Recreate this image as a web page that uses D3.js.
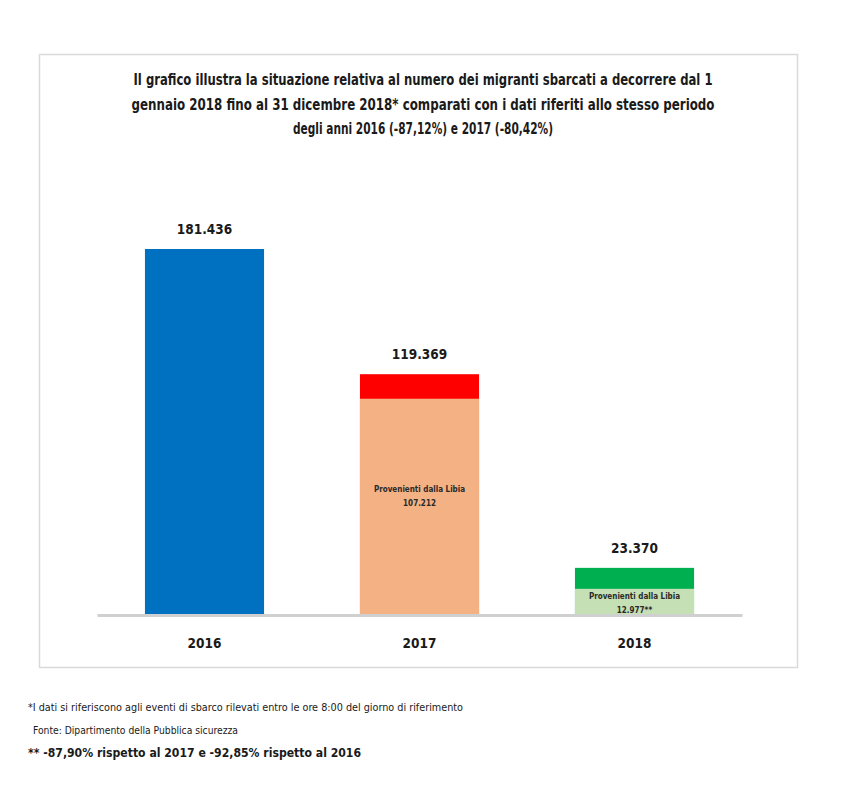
<!DOCTYPE html>
<html><head><meta charset="utf-8">
<script src="https://cdn.jsdelivr.net/npm/d3@7"></script>
<style>body{margin:0;background:#fff}svg{display:block}</style>
</head><body>
<script>
const categories = ["2016", "2017", "2018"];
const totals = [181436, 119369, 23370];
const libya = [null, 107212, 12977];
const totalLabels = ["181.436", "119.369", "23.370"];
const libyaLabels = [null, "107.212", "12.977**"];
const titleLines = [
  "Il grafico illustra la situazione relativa al numero dei migranti sbarcati a decorrere dal 1",
  "gennaio 2018 fino al 31 dicembre 2018* comparati con i dati riferiti allo stesso periodo",
  "degli anni 2016 (-87,12%) e 2017 (-80,42%)"
];
const footnotes = [
  "*I dati si riferiscono agli eventi di sbarco rilevati entro le ore 8:00 del giorno di riferimento",
  "Fonte: Dipartimento della Pubblica sicurezza",
  "** -87,90% rispetto al 2017 e -92,85% rispetto al 2016"
];
const topColors = ["#0070C0", "#FF0000", "#00B050"];
const bottomColors = [null, "#F4B183", "#C5E0B4"];

const W = 846, H = 802;
const font = "'Liberation Sans Narrow','DejaVu Sans Condensed',Arial,sans-serif";
const svg = d3.select("body").append("svg").attr("width", W).attr("height", H)
  .style("font-family", font);

svg.append("rect").attr("x", 39.5).attr("y", 54.5).attr("width", 758).attr("height", 613)
  .attr("fill", "#fff").attr("stroke", "#d9d9d9").attr("stroke-width", 1.5);

const x = d3.scaleBand().domain(categories).range([97, 742]).paddingInner(0.446).paddingOuter(0.223);
const y = d3.scaleLinear().domain([0, 181436]).range([615, 249]);

// title
const titleWidths = [579, 583, 260];
svg.append("g").selectAll("text").data(titleLines).join("text")
  .attr("x", 423).attr("y", (d, i) => 85 + i * 24.5)
  .attr("text-anchor", "middle").attr("font-weight", "bold").attr("font-size", 15)
  .attr("textLength", (d, i) => titleWidths[i]).attr("lengthAdjust", "spacingAndGlyphs")
  .attr("fill", "#1a1a1a").text(d => d);

const data = categories.map((c, i) => ({c, t: totals[i], l: libya[i], i}));

// top (total) bars
svg.append("g").selectAll("rect").data(data).join("rect")
  .attr("x", d => x(d.c)).attr("width", x.bandwidth())
  .attr("y", d => y(d.t)).attr("height", d => y(0) - y(d.t))
  .attr("fill", d => topColors[d.i]);

// libya bars
svg.append("g").selectAll("rect").data(data.filter(d => d.l != null)).join("rect")
  .attr("x", d => x(d.c)).attr("width", x.bandwidth())
  .attr("y", d => y(d.l)).attr("height", d => y(0) - y(d.l))
  .attr("fill", d => bottomColors[d.i]);

// axis baseline
const ax = svg.append("g").attr("transform", `translate(0,${y(0)})`)
  .call(d3.axisBottom(x).tickSize(0).tickPadding(23));
ax.select(".domain").attr("stroke", "#d0d0d0").attr("stroke-width", 3);
ax.selectAll("text").attr("font-family", font).attr("font-size", 13.5)
  .attr("font-weight", "bold").attr("fill", "#1a1a1a");

// value labels
svg.append("g").selectAll("text").data(data).join("text")
  .attr("x", d => x(d.c) + x.bandwidth() / 2).attr("y", d => y(d.t) - 15)
  .attr("text-anchor", "middle").attr("font-weight", "bold").attr("font-size", 13.5)
  .attr("fill", "#1a1a1a").text(d => totalLabels[d.i]);

// inside labels
const lib = data.filter(d => d.l != null);
const insideY = [null, y(0) - 123, y(0) - 16];
const ig = svg.append("g");
lib.forEach(d => {
  const cx = x(d.c) + x.bandwidth() / 2;
  ig.append("text").attr("x", cx).attr("y", insideY[d.i])
    .attr("text-anchor", "middle").attr("font-weight", "bold").attr("font-size", 8)
    .attr("fill", "#2a2a2a").text("Provenienti dalla Libia");
  ig.append("text").attr("x", cx).attr("y", insideY[d.i] + 14)
    .attr("text-anchor", "middle").attr("font-weight", "bold").attr("font-size", 8)
    .attr("fill", "#2a2a2a").text(libyaLabels[d.i]);
});

// footnotes
const fn = svg.append("g");
fn.append("text").attr("x", 28).attr("y", 711).attr("font-size", 10.5).attr("fill", "#1a1a1a")
  .attr("textLength", 435).attr("lengthAdjust", "spacingAndGlyphs").text(footnotes[0]);
fn.append("text").attr("x", 33).attr("y", 734).attr("font-size", 10.5).attr("fill", "#1a1a1a")
  .attr("textLength", 205).attr("lengthAdjust", "spacingAndGlyphs").text(footnotes[1]);
fn.append("text").attr("x", 28).attr("y", 757).attr("font-size", 13).attr("font-weight", "bold").attr("fill", "#1a1a1a")
  .attr("textLength", 333).attr("lengthAdjust", "spacingAndGlyphs").text(footnotes[2]);
</script>
</body></html>
